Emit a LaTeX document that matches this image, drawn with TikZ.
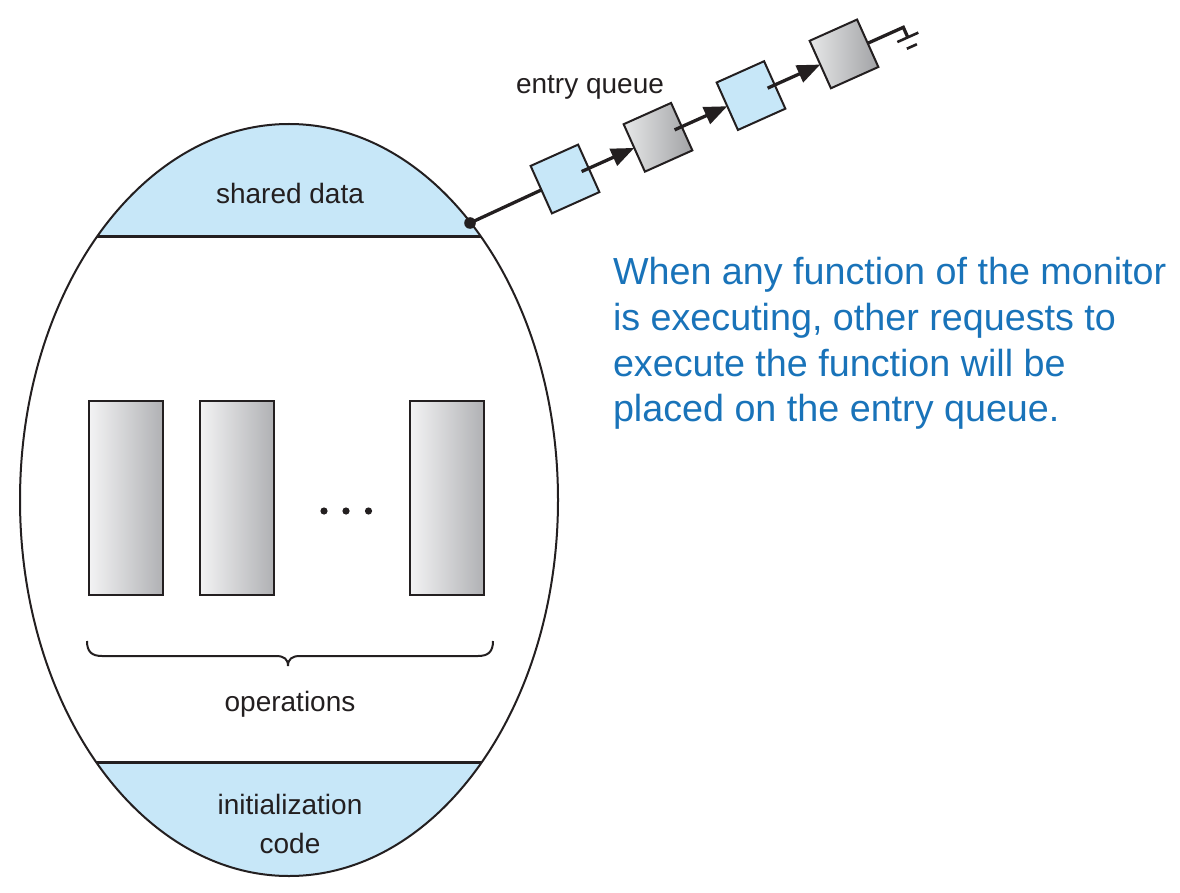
\documentclass[tikz,border=0pt]{standalone}
\usepackage{fontspec}
\setmainfont{Liberation Sans}
\usetikzlibrary{arrows.meta,calc,shapes.geometric}

\definecolor{capblue}{RGB}{199,231,248}
\definecolor{ink}{RGB}{35,31,32}
\definecolor{noteblue}{RGB}{25,115,185}
\definecolor{graylight}{RGB}{243,243,244}
\definecolor{graydark}{RGB}{176,177,180}

\begin{document}
\begin{tikzpicture}[x=1pt,y=-1pt,
  every node/.style={inner sep=0pt, outer sep=0pt},
  lbl/.style={text=ink, font=\fontsize{28}{33.6}\selectfont, anchor=base},
  notetext/.style={text=noteblue, font=\fontsize{37.7}{45.8}\selectfont, anchor=base west},
  oprect/.style={draw=ink, line width=2pt, minimum width=74pt, minimum height=194pt,
                 left color=graylight, right color=graydark},
  qbox/.style={draw=ink, line width=2pt, minimum size=52pt, rotate=24.15},
  qblue/.style={qbox, fill=capblue},
  qgray/.style={qbox, left color=graylight!95!black, right color=graydark!92!black},
  link/.style={draw=ink, line width=3.3pt},
  ptr/.style={link, -{Triangle[length=23pt,width=18pt]}},
]
\useasboundingbox (0,0) rectangle (1180,893);

% monitor body: tinted caps for shared data and initialization code
\begin{scope}
  \clip (289,500) ellipse [x radius=269pt, y radius=376pt];
  \fill[capblue] (0,0) rectangle (1180,237);
  \fill[capblue] (0,762) rectangle (1180,893);
  \draw[ink, line width=3pt] (0,237) -- (1180,237);
  \draw[ink, line width=3pt] (0,762) -- (1180,762);
\end{scope}
\node[ellipse, draw=ink, line width=2pt, minimum width=538pt, minimum height=752pt] (mon) at (289,500) {};

\node[lbl] (shared) at (290,203.3) {shared data};
\node[lbl] (init1) at (290,814) {initialization};
\node[lbl] (init2) at (290,853.6) {code};

% operations
\node[oprect] (r1) at (126,498) {};
\node[oprect] (r2) at (236.5,498) {};
\node[oprect] (r3) at (447,498) {};
\fill[ink] (324,511) circle[radius=3.6pt];
\fill[ink] (346,511) circle[radius=3.6pt];
\fill[ink] (368.5,511) circle[radius=3.6pt];

\draw[ink, line width=2pt] (87,641) .. controls (87,652) and (92,656) .. (102,656)
  -- (276,656) .. controls (284,656) and (288,659) .. (288,666)
  .. controls (288,659) and (292,656) .. (300,656)
  -- (478,656) .. controls (488,656) and (493,652) .. (493,641);
\node[lbl] (ops) at (290,711.7) {operations};

% entry queue
\node[lbl] (eq) at (590,93.3) {entry queue};
\coordinate (hook) at (470,223);
\draw[link] (hook) -- (565,179);
\node[qblue] (b1) at (565,179) {};
\node[qgray] (b2) at (658,137.3) {};
\node[qblue] (b3) at (751,95.6) {};
\node[qgray] (b4) at (844,53.9) {};
\fill[ink] (hook) circle[radius=5.8pt];

\draw[ptr] ($(b1.center)!0.7!(b1.east)$) -- (b2.west);
\draw[ptr] ($(b2.center)!0.7!(b2.east)$) -- (b3.west);
\draw[ptr] ($(b3.center)!0.7!(b3.east)$) -- (b4.west);

% null terminator
\begin{scope}[shift={(b4.east)}, rotate=24.15]
  \coordinate (gnd) at (39,0);
  \draw[link, line join=miter] (0,0) -- (gnd) -- (39,11);
  \draw[ink, line width=2.6pt] (27.5,11) -- (50.5,11);
  \draw[ink, line width=2.6pt] (33.5,21) -- (44.5,21);
\end{scope}

% note
\node[notetext] (note1) at (613,284) {When any function of the monitor};
\node[notetext] (note2) at (613,330) {is executing, other requests to};
\node[notetext] (note3) at (613,376) {execute the function will be};
\node[notetext] (note4) at (613,421.7) {placed on the entry queue.};
\end{tikzpicture}
\end{document}
